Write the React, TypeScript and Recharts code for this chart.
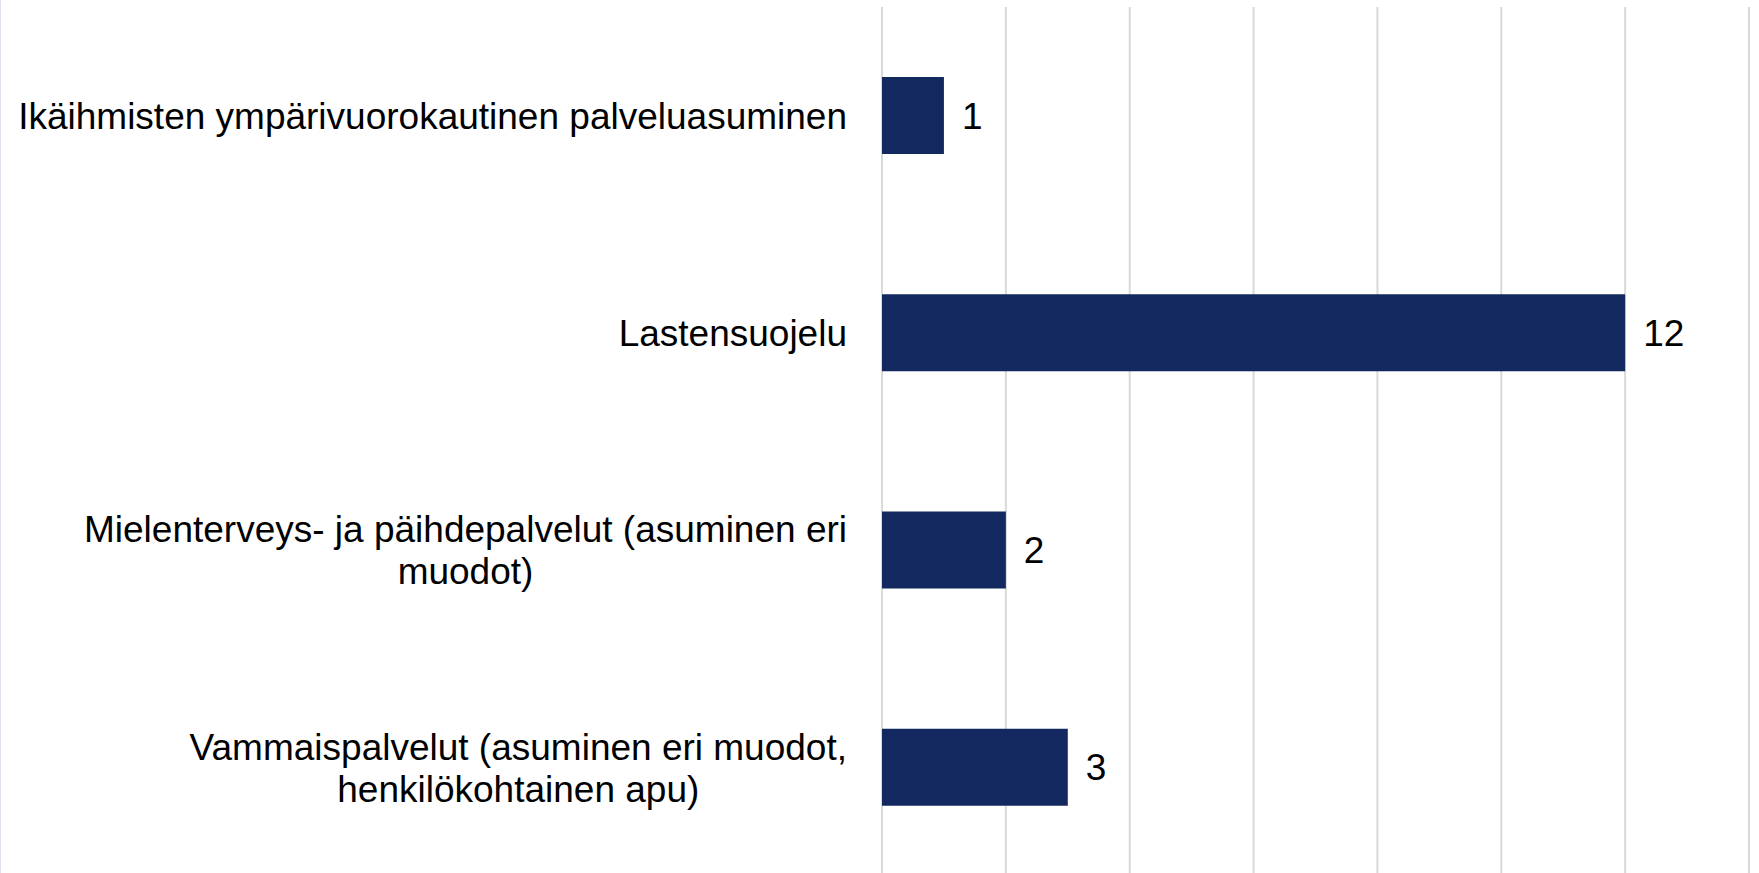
import React from 'react';
import { BarChart, Bar, XAxis, YAxis, CartesianGrid, LabelList } from 'recharts';

// category labels, already split into lines as in the original
const categories: string[][] = [
  ['Ikäihmisten ympärivuorokautinen palveluasuminen'],
  ['Lastensuojelu'],
  ['Mielenterveys- ja päihdepalvelut (asuminen eri', 'muodot)'],
  ['Vammaispalvelut (asuminen eri muodot,', 'henkilökohtainen apu)'],
];
const values: number[] = [1, 12, 2, 3];
const xTicks: number[] = [0, 2, 4, 6, 8, 10, 12, 14];

const FONT = "'Liberation Sans', Arial, sans-serif";
const FONT_SIZE = 37;
const LINE_HEIGHT = 42;

let canvas: HTMLCanvasElement | null = null;
const measure = (text: string) => {
  if (!canvas) canvas = document.createElement('canvas');
  const ctx = canvas.getContext('2d');
  if (!ctx) return text.length * FONT_SIZE * 0.5;
  ctx.font = `${FONT_SIZE}px ${FONT}`;
  return ctx.measureText(text).width;
};

const data = categories.map((lines, i) => ({
  name: lines.join(' '),
  value: values[i],
}));

// right-aligned block, lines centered inside it
const CategoryTick = (props: any) => {
  const { x, y, payload } = props;
  const lines = categories.find((l) => l.join(' ') === payload.value) || [String(payload.value)];
  const w = Math.max(...lines.map(measure));
  const cx = x - w / 2;
  const start = -((lines.length - 1) / 2) * LINE_HEIGHT;
  return (
    <text x={cx} y={y} textAnchor="middle" fill="#000" fontSize={FONT_SIZE} fontFamily={FONT}>
      {lines.map((line, i) => (
        <tspan key={i} x={cx} y={y + start + i * LINE_HEIGHT} dy="0.355em">
          {line}
        </tspan>
      ))}
    </text>
  );
};

export default function App() {
  return (
    <div
      style={{
        position: 'absolute',
        left: 0,
        top: 0,
        width: 1759,
        height: 873,
        overflow: 'hidden',
        background: '#fff',
        borderLeft: '1px solid #dde2ec',
        boxSizing: 'border-box',
      }}
    >
      <BarChart
        width={1758}
        height={876}
        data={data}
        layout="vertical"
        margin={{ top: 7, right: 10, bottom: 0, left: 0 }}
        barCategoryGap={70}
      >
        <CartesianGrid horizontal={false} stroke="#d9d9d9" strokeWidth={2} />
        <XAxis type="number" domain={[0, 14]} ticks={xTicks} hide />
        <YAxis
          type="category"
          dataKey="name"
          width={881}
          axisLine={false}
          tickLine={false}
          tickSize={0}
          tickMargin={35}
          tick={<CategoryTick />}
          interval={0}
        />
        <Bar dataKey="value" fill="#13285e" isAnimationActive={false}>
          <LabelList
            dataKey="value"
            position="right"
            offset={18}
            fill="#000"
            fontSize={FONT_SIZE}
            fontFamily={FONT}
          />
        </Bar>
      </BarChart>
    </div>
  );
}
